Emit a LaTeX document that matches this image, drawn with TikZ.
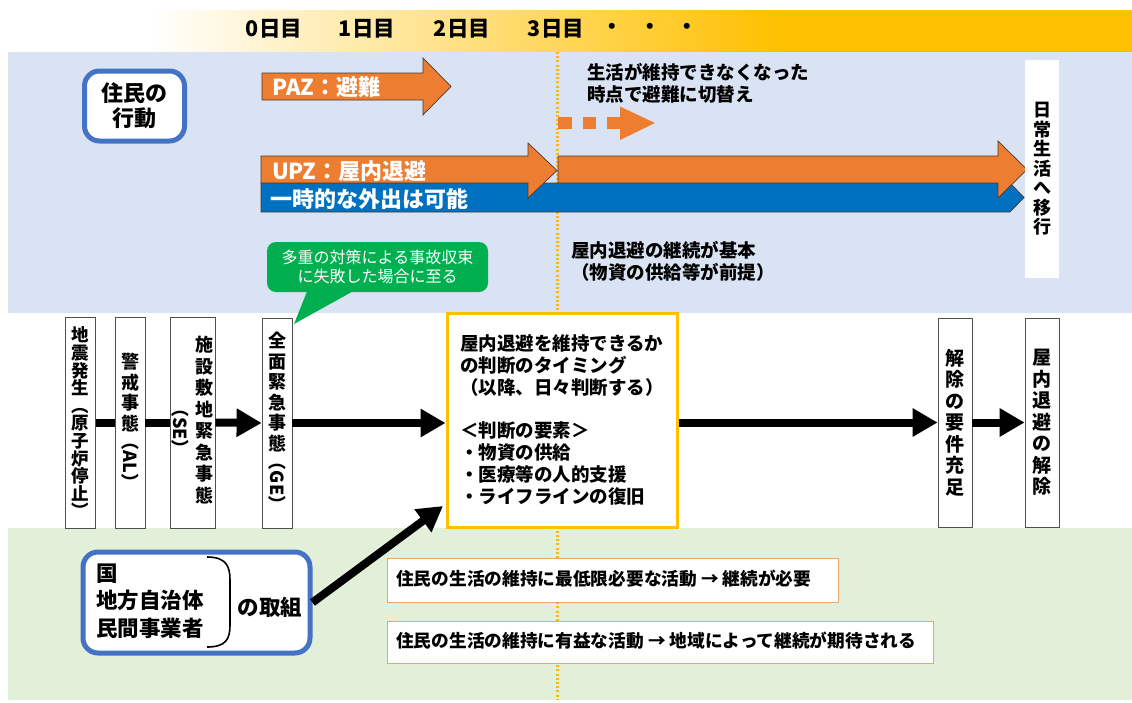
\documentclass[tikz,border=0pt]{standalone}
\usepackage{fontspec}
\usepackage{graphicx}
\usetikzlibrary{arrows.meta}
\newfontfamily\jp{Noto Sans CJK JP}
\definecolor{bluebg}{HTML}{DAE3F3}
\definecolor{greenbg}{HTML}{E2F0D9}
\definecolor{hdr}{HTML}{FFC000}
\definecolor{orangeA}{HTML}{ED7D31}
\definecolor{edgeA}{HTML}{4A3A30}
\definecolor{bluebar}{HTML}{0070C0}
\definecolor{boxblue}{HTML}{4472C4}
\definecolor{callgreen}{HTML}{00B050}
\definecolor{judgey}{HTML}{FFC000}
\definecolor{actedge}{HTML}{E6A86A}
\definecolor{boxgray}{HTML}{505050}
\definecolor{dotc}{HTML}{F5BA14}
\tikzset{
  vbox/.style={draw=boxgray, line width=0.8pt, fill=white, minimum width=#1,
    inner sep=0pt, align=center, font=\jp\bfseries\fontsize{18}{20.5}\selectfont},
  blockarrow/.style={fill=orangeA, draw=edgeA, line width=0.7pt, line join=miter},
  barstyle/.style={fill=bluebar, draw=edgeA, line width=0.7pt, line join=miter},
  flowline/.style={line width=8pt, draw=black},
  flowarrow/.style={flowline, -{Triangle[length=25pt,width=27pt]}},
  dotline/.style={draw=dotc, line width=2.5pt, dash pattern=on 2pt off 2.2pt},
  hdrtext/.style={font=\jp\bfseries\fontsize{21.5}{24}\selectfont, inner sep=0pt},
  armlabel/.style={font=\jp\bfseries\fontsize{22}{24}\selectfont, text=white, inner sep=0pt, anchor=west},
  plain/.style={font=\jp\bfseries\fontsize{18.5}{22}\selectfont, inner sep=0pt, align=left, anchor=west},
  actbox/.style={draw=actedge, line width=1pt, fill=white, minimum height=44pt, inner sep=0pt},
  acttext/.style={font=\jp\bfseries\fontsize{17.7}{20}\selectfont, inner sep=0pt, anchor=west},
  roundblue/.style={draw=boxblue, line width=5pt, fill=white, rounded corners=15pt, inner sep=0pt},
}
\begin{document}
\begin{tikzpicture}[x=1pt,y=-1pt]
\useasboundingbox (0,0) rectangle (1132,702);
\fill[white] (0,0) rectangle (1132,702);
% header band
\shade[left color=white, right color=hdr] (150,10) rectangle (780.5,52);
\fill[hdr] (780,10) rectangle (1132,52);
\node[hdrtext] (d0) at (274,29) {0日目};
\node[hdrtext] (d1) at (367,29) {1日目};
\node[hdrtext] (d2) at (462,29) {2日目};
\node[hdrtext] (d3) at (556,29) {3日目};
\node[hdrtext] (dots) at (650,29) {・\hspace{16pt}・\hspace{16pt}・};
% section backgrounds
\fill[bluebg] (8,52) rectangle (1132,313);
\fill[greenbg] (8,528) rectangle (1132,700);
\draw[dotline] (557.5,52) -- (557.5,700);

% residents box
\node[roundblue, minimum width=100pt, minimum height=70pt,
  font=\jp\bfseries\fontsize{22}{25}\selectfont, align=center] (jumin) at (134.5,106) {住民の\\行動};

% PAZ arrow
\filldraw[blockarrow] (262,73) -- (423,73) -- (423,58) -- (451,86.5) -- (423,115) -- (423,100) -- (262,100) -- cycle;
\node[armlabel] (paz) at (272,87) {PAZ：避難};
% blue bar
\filldraw[barstyle] (261,183) -- (1010,183) -- (1024,197.5) -- (1010,212) -- (261,212) -- cycle;
% UPZ arrows
\filldraw[blockarrow] (261,156) -- (528,156) -- (528,143) -- (557,170.5) -- (528,198) -- (528,183) -- (261,183) -- cycle;
\filldraw[blockarrow] (558,156) -- (998,156) -- (998,141) -- (1027,169.5) -- (998,198) -- (998,183) -- (558,183) -- cycle;
\node[armlabel] (upz) at (272,171) {UPZ：屋内退避};
\node[armlabel] (outing) at (270,199) {一時的な外出は可能};
% dotted arrow
\fill[orangeA] (558,117) rectangle (572,129);
\fill[orangeA] (583,117) rectangle (596,129);
\fill[orangeA] (607,117) rectangle (620,129);
\fill[orangeA] (620,106.5) -- (655,123) -- (620,140) -- cycle;
\node[plain] (switch) at (587,83) {生活が維持できなくなった\\時点で避難に切替え};
\node[plain] (cont) at (571,261) {屋内退避の継続が基本\\（物資の供給等が前提）};
% daily life box
\node[fill=white, minimum width=34pt, minimum height=218pt, inner sep=0pt, align=center,
  font=\jp\bfseries\fontsize{18}{19.5}\selectfont] (nichijo) at (1042,169) {日\\常\\生\\活\\へ\\移\\行};

% callout
\fill[callgreen] (308,289) -- (357,289) -- (294,324) -- cycle;
\node[fill=callgreen, rounded corners=9pt, minimum width=221pt, minimum height=50pt, inner sep=0pt,
  text=white, align=center, font=\jp\fontsize{16}{19.5}\selectfont] (call) at (377.5,267)
  {多重の対策による事故収束\\に失敗した場合に至る};

% vertical boxes
\node[vbox=30pt, minimum height=211pt, font=\jp\bfseries\fontsize{17.5}{17.6}\selectfont] (b1) at (80.5,422.5)
  {地\\震\\発\\生\\︵\\原\\子\\炉\\停\\止\\︶};
\node[vbox=30pt, minimum height=211pt] (b2) at (130,422.5)
  {警\\戒\\事\\態\\\rotatebox[origin=c]{-90}{（AL）}};
\node[vbox=45pt, minimum height=211pt] (b3) at (192.5,422.5)
  {\raisebox{-6pt}{$\vcenter{\hbox{\rotatebox{-90}{（SE）}}}$}\hspace{6pt}$\vcenter{\hbox{\begin{tabular}{@{}c@{}}施\\設\\敷\\地\\緊\\急\\事\\態\end{tabular}}}$};
\node[vbox=30pt, minimum height=210pt] (b4) at (277,423)
  {全\\面\\緊\\急\\事\\態\\\rotatebox[origin=c]{-90}{（GE）}};

% judgement box
\node[draw=judgey, line width=3pt, fill=white, minimum width=230pt, minimum height=214pt, inner sep=0pt,
  align=left, font=\jp\bfseries\fontsize{18.5}{21.9}\selectfont] (judge) at (562,420)
  {屋内退避を維持できるか\\の判断のタイミング\\（以降、日々判断する）\\[21.9pt]＜判断の要素＞\\・物資の供給\\・医療等の人的支援\\・ライフラインの復旧};

\node[vbox=34pt, minimum height=209pt, font=\jp\bfseries\fontsize{19}{21.5}\selectfont] (kaijo) at (955,422.5)
  {解\\除\\の\\要\\件\\充\\足};
\node[vbox=34pt, minimum height=209pt, font=\jp\bfseries\fontsize{19}{21.5}\selectfont] (okunai) at (1042,422.5)
  {屋\\内\\退\\避\\の\\解\\除};

% flow connectors
\draw[flowline] (b1.east) -- (b2.west);
\draw[flowline] (b2.east) -- (b3.west);
\draw[flowarrow] (b3.east) -- (b4.west);
\draw[flowarrow] (b4.east) -- (judge.west |- b4.east);
\draw[flowarrow] (judge.east |- kaijo.west) -- (kaijo.west);
\draw[flowarrow] (kaijo.east) -- (okunai.west);

% bottom actors box
\node[roundblue, minimum width=227pt, minimum height=101pt] (actors) at (196.5,602.5) {};
\node[font=\jp\bfseries\fontsize{21.5}{27.5}\selectfont, align=left, inner sep=0pt, anchor=west] (kuni) at (96,601)
  {国\\地方自治体\\民間事業者};
\draw[line width=1.6pt] (207,557) .. controls (226,557) and (230,566) .. (230,580) -- (230,625) .. controls (230,639) and (226,647) .. (207,647);
\node[font=\jp\bfseries\fontsize{21.5}{24}\selectfont, inner sep=0pt] (torikumi) at (270,607) {の取組};
\coordinate (jin) at (443,506);
\draw[flowarrow] (actors.east) -- (jin);

% activity boxes
\node[actbox, minimum width=451pt] (act1) at (612.5,580) {};
\node[acttext] (act1t) at (396,579) {住民の生活の維持に最低限必要な活動 → 継続が必要};
\node[actbox, minimum width=546pt, minimum height=42pt] (act2) at (660,642) {};
\node[acttext] (act2t) at (396,641) {住民の生活の維持に有益な活動 → 地域によって継続が期待される};
\end{tikzpicture}
\end{document}
